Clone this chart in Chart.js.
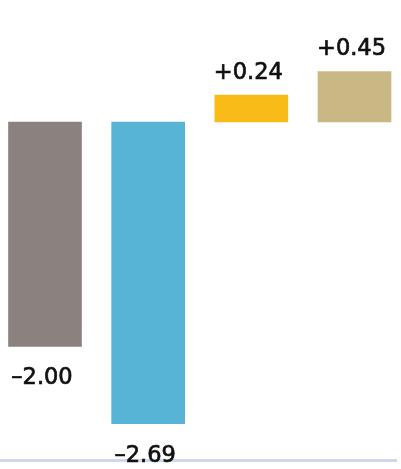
<!DOCTYPE html>
<html>
<head>
<meta charset="utf-8">
<script src="https://cdn.jsdelivr.net/npm/chart.js@4/dist/chart.umd.min.js"></script>
<style>
    html, body { margin: 0; padding: 0; background: #fff; }
    canvas { display: block; }
</style>
</head>
<body>
<canvas id="waterfallChart" width="401" height="469"></canvas>
<script>
// chart data
var categories = ['A', 'B', 'C', 'D'];
var values = [-2.00, -2.69, 0.24, 0.45];
var valueLabels = ['\u20132.00', '\u20132.69', '+0.24', '+0.45'];

var colours = ['#8b817f', '#58b4d6', '#f8bb17', '#c9b784'];

// draws the value text above / below each bar
var valueLabelPlugin = {
    id: 'valueLabels',
    afterDatasetsDraw: function(chart) {
        var ctx = chart.ctx;
        var meta = chart.getDatasetMeta(0);
        ctx.save();
        ctx.font = '22.5px "DejaVu Sans"';
        ctx.fillStyle = '#111';
        ctx.strokeStyle = '#111';
        ctx.lineWidth = 0.7;
        ctx.textAlign = 'center';
        ctx.textBaseline = 'alphabetic';
        meta.data.forEach(function(bar, i) {
            var v = values[i];
            var x = bar.x - 3;
            var y;
            if (v < 0) {
                y = bar.y + 38;
            } else {
                y = bar.y - 16;
            }
            ctx.fillText(valueLabels[i], x, y);
            ctx.strokeText(valueLabels[i], x, y);
        });
        ctx.restore();
    }
};

// thin frame line along the bottom, behind the labels
var bottomLinePlugin = {
    id: 'bottomLine',
    beforeDatasetsDraw: function(chart) {
        var ctx = chart.ctx;
        ctx.save();
        ctx.fillStyle = '#cdd7f0';
        ctx.fillRect(0, 459, 397, 3);
        ctx.restore();
    }
};

var ctx = document.getElementById('waterfallChart');

var myChart = new Chart(ctx, {
    type: 'bar',
    data: {
        labels: categories,
        datasets: [{
            data: values,
            backgroundColor: colours,
            borderWidth: 0,
            barThickness: 73,
            clip: false
        }]
    },
    options: {
        responsive: false,
        animation: false,
        devicePixelRatio: 1,
        layout: {
            padding: { left: 45, right: 46.5, top: 0, bottom: 0 }
        },
        plugins: {
            legend: { display: false },
            tooltip: { enabled: false }
        },
        scales: {
            x: {
                display: false,
                offset: false
            },
            y: {
                display: false,
                min: -3.093,
                max: 1.087
            }
        }
    },
    plugins: [bottomLinePlugin, valueLabelPlugin]
});
</script>
</body>
</html>
